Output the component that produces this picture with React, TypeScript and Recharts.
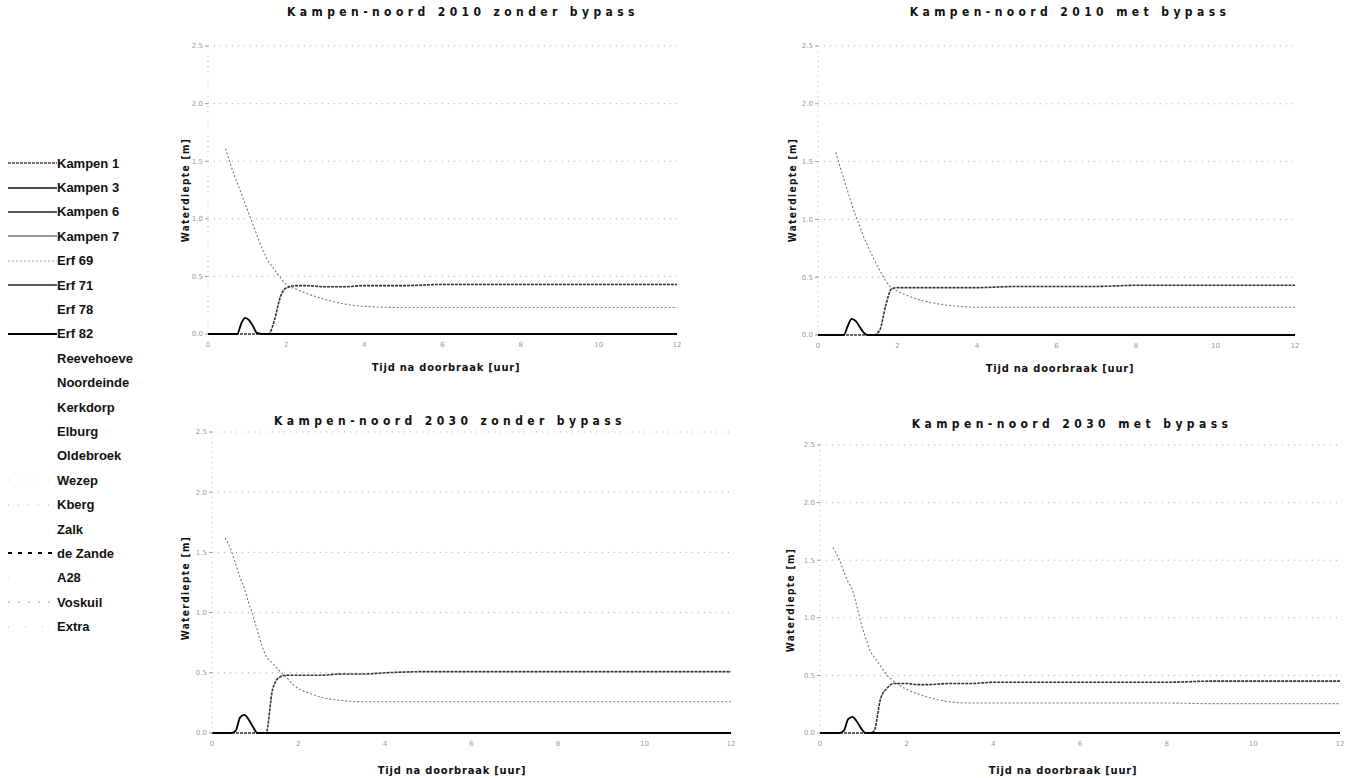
import { CartesianGrid, Line, LineChart, XAxis, YAxis } from "recharts";

// time after breach [uur], shared by all four panels
const hours = [0, 0.3, 0.45, 0.55, 0.65, 0.75, 0.85, 0.95, 1.05, 1.15, 1.25, 1.4, 1.55, 1.7, 1.85, 2, 2.25, 2.5, 3, 3.5, 4, 5, 6, 7, 8, 9, 10, 11, 12];

// water depth [m] per panel
const p1Bump = [0, 0, 0, 0, 0, 0, 0.09, 0.14, 0.12, 0.07, 0.01, 0, 0, 0, 0, 0, 0, 0, 0, 0, 0, 0, 0, 0, 0, 0, 0, 0, 0];
const p1Rise = [0, 0, 0, 0, 0, 0, 0, 0, 0, 0, 0, 0, 0, 0.12, 0.32, 0.4, 0.42, 0.42, 0.41, 0.41, 0.42, 0.42, 0.43, 0.43, 0.43, 0.43, 0.43, 0.43, 0.43];
const p1Fall = [null, null, 1.61, 1.5, 1.4, 1.31, 1.22, 1.13, 1.04, 0.95, 0.86, 0.73, 0.63, 0.56, 0.49, 0.43, 0.39, 0.355, 0.3, 0.26, 0.24, 0.23, 0.23, 0.23, 0.23, 0.23, 0.23, 0.23, 0.23];

const p2Bump = [0, 0, 0, 0, 0, 0.08, 0.14, 0.12, 0.07, 0.02, 0, 0, 0, 0, 0, 0, 0, 0, 0, 0, 0, 0, 0, 0, 0, 0, 0, 0, 0];
const p2Rise = [0, 0, 0, 0, 0, 0, 0, 0, 0, 0, 0, 0, 0.04, 0.25, 0.4, 0.41, 0.41, 0.41, 0.41, 0.41, 0.41, 0.42, 0.42, 0.42, 0.43, 0.43, 0.43, 0.43, 0.43];
const p2Fall = [null, null, 1.58, 1.46, 1.35, 1.24, 1.13, 1.03, 0.94, 0.85, 0.77, 0.66, 0.56, 0.47, 0.41, 0.38, 0.34, 0.31, 0.27, 0.25, 0.24, 0.24, 0.24, 0.24, 0.24, 0.24, 0.24, 0.24, 0.24];

const p3Bump = [0, 0, 0, 0.02, 0.13, 0.15, 0.11, 0.05, 0, 0, 0, 0, 0, 0, 0, 0, 0, 0, 0, 0, 0, 0, 0, 0, 0, 0, 0, 0, 0];
const p3Rise = [0, 0, 0, 0, 0, 0, 0, 0, 0, 0, 0, 0.36, 0.46, 0.48, 0.48, 0.48, 0.48, 0.48, 0.49, 0.49, 0.5, 0.51, 0.51, 0.51, 0.51, 0.51, 0.51, 0.51, 0.51];
const p3Fall = [null, 1.62, 1.51, 1.4, 1.29, 1.2, 1.08, 0.97, 0.85, 0.73, 0.64, 0.58, 0.52, 0.47, 0.41, 0.37, 0.33, 0.3, 0.27, 0.26, 0.26, 0.26, 0.26, 0.26, 0.26, 0.26, 0.26, 0.26, 0.26];

const p4Bump = [0, 0, 0, 0.02, 0.12, 0.14, 0.1, 0.04, 0, 0, 0, 0, 0, 0, 0, 0, 0, 0, 0, 0, 0, 0, 0, 0, 0, 0, 0, 0, 0];
const p4Rise = [0, 0, 0, 0, 0, 0, 0, 0, 0, 0, 0.02, 0.3, 0.39, 0.43, 0.43, 0.43, 0.42, 0.42, 0.43, 0.43, 0.44, 0.44, 0.44, 0.44, 0.44, 0.45, 0.45, 0.45, 0.45];
const p4Fall = [null, 1.61, 1.5, 1.4, 1.31, 1.24, 1.1, 0.95, 0.83, 0.72, 0.66, 0.58, 0.5, 0.45, 0.41, 0.38, 0.34, 0.31, 0.27, 0.26, 0.26, 0.26, 0.26, 0.26, 0.26, 0.255, 0.255, 0.255, 0.255];

const xTicks = [0, 2, 4, 6, 8, 10, 12];
const yTicks = [0, 0.5, 1, 1.5, 2, 2.5];

const titles = [
  "Kampen-noord 2010 zonder bypass",
  "Kampen-noord 2010 met bypass",
  "Kampen-noord 2030 zonder bypass",
  "Kampen-noord 2030 met bypass",
];

const legendNames = [
  "Kampen 1", "Kampen 3", "Kampen 6", "Kampen 7", "Erf 69", "Erf 71", "Erf 78", "Erf 82",
  "Reevehoeve", "Noordeinde", "Kerkdorp", "Elburg", "Oldebroek", "Wezep", "Kberg", "Zalk",
  "de Zande", "A28", "Voskuil", "Extra",
];

// stroke for each legend entry: [color, width, dash] (null = no visible line)
const legendStyles: ([string, number, string] | null)[] = [
  ["#444", 1.5, "3 1"], ["#111", 1.5, ""], ["#222", 1.5, ""], ["#333", 1, ""],
  ["#aaa", 1, "2 2"], ["#222", 1.5, ""], null, ["#000", 2, ""],
  null, null, null, null, null,
  ["#bbb", 1, "1 9"], ["#aaa", 1, "1 9"], null,
  ["#000", 2, "4 6"], ["#ccc", 1, "1 60"], ["#999", 1, "2 8"], ["#bbb", 1, "1 16"],
];

const panelSeries = [
  [p1Bump, p1Rise, p1Fall],
  [p2Bump, p2Rise, p2Fall],
  [p3Bump, p3Rise, p3Fall],
  [p4Bump, p4Rise, p4Fall],
];

const boldNarrow = "'Liberation Sans Narrow', 'DejaVu Sans Condensed', 'Liberation Sans', sans-serif";

interface PanelBox {
  left: number;
  top: number;
  width: number;
  height: number;
  margin: { top: number; right: number; bottom: number; left: number };
  titleX: number;
  titleY: number;
  xLabelX: number;
  xLabelY: number;
  yLabelX: number;
  yLabelY: number;
}

const boxes: PanelBox[] = [
  { left: 160, top: 0, width: 540, height: 370, margin: { top: 46, right: 23, bottom: 16, left: 18 },
    titleX: 463, titleY: 12, xLabelX: 446, xLabelY: 367, yLabelX: 185, yLabelY: 190 },
  { left: 770, top: 0, width: 550, height: 371, margin: { top: 46, right: 25, bottom: 16, left: 18 },
    titleX: 1070, titleY: 12, xLabelX: 1060, xLabelY: 368, yLabelX: 792, yLabelY: 190 },
  { left: 164, top: 390, width: 580, height: 375, margin: { top: 42, right: 13, bottom: 12, left: 18 },
    titleX: 450, titleY: 421, xLabelX: 452, xLabelY: 770, yLabelX: 185, yLabelY: 588 },
  { left: 772, top: 400, width: 575, height: 365, margin: { top: 45, right: 7, bottom: 12, left: 18 },
    titleX: 1072, titleY: 424, xLabelX: 1063, xLabelY: 770, yLabelX: 790, yLabelY: 600 },
];

function Panel({ index }: { index: number }) {
  const box = boxes[index];
  const [bump, rise, fall] = panelSeries[index];
  const data = hours.map((t, i) => ({ t, bump: bump[i], rise: rise[i], fall: fall[i] }));
  const tick = { fill: "#9a9a9a", fontSize: 7, fontFamily: "'DejaVu Sans', sans-serif" };

  return (
    <>
      <div style={{ position: "absolute", left: box.left, top: box.top }}>
        <LineChart width={box.width} height={box.height} data={data} margin={box.margin}>
          <CartesianGrid horizontal vertical={false} stroke="#aaa" strokeDasharray="1 5" />
          <XAxis
            type="number"
            dataKey="t"
            domain={[0, 12]}
            ticks={xTicks}
            height={20}
            axisLine={false}
            tickLine={false}
            tick={tick}
          />
          <YAxis
            domain={[0, 2.5]}
            ticks={yTicks}
            width={30}
            axisLine={{ stroke: "#bbb", strokeDasharray: "1 4" }}
            tickLine={{ stroke: "#999" }}
            tickSize={3}
            tick={tick}
            tickFormatter={(v: number) => v.toFixed(1)}
          />
          <Line dataKey="fall" type="monotone" stroke="#777" strokeWidth={1.1} strokeDasharray="2 2" dot={false} isAnimationActive={false} />
          <Line dataKey="rise" type="monotone" stroke="#333" strokeWidth={1.6} strokeDasharray="3 1" dot={false} isAnimationActive={false} />
          <Line dataKey="bump" type="monotone" stroke="#000" strokeWidth={1.8} dot={false} isAnimationActive={false} />
        </LineChart>
      </div>
      <div
        style={{
          position: "absolute", left: box.titleX, top: box.titleY, transform: "translate(-50%, -50%)",
          fontFamily: boldNarrow, fontWeight: "bold", fontSize: 12, letterSpacing: 4.4, whiteSpace: "nowrap", color: "#111",
        }}
      >
        {titles[index]}
      </div>
      <div
        style={{
          position: "absolute", left: box.xLabelX, top: box.xLabelY, transform: "translate(-50%, -50%)",
          fontFamily: boldNarrow, fontWeight: "bold", fontSize: 11, letterSpacing: 0.8, whiteSpace: "nowrap", color: "#111",
        }}
      >
        Tijd na doorbraak [uur]
      </div>
      <div
        style={{
          position: "absolute", left: box.yLabelX, top: box.yLabelY, transform: "translate(-50%, -50%) rotate(-90deg)",
          fontFamily: boldNarrow, fontWeight: "bold", fontSize: 10, letterSpacing: 1.4, whiteSpace: "nowrap", color: "#111",
        }}
      >
        Waterdiepte [m]
      </div>
    </>
  );
}

function SideLegend() {
  return (
    <div style={{ position: "absolute", left: 8, top: 151 }}>
      {legendNames.map((name, i) => {
        const s = legendStyles[i];
        return (
          <div key={name} style={{ display: "flex", alignItems: "center", height: 24.4 }}>
            <svg width={49} height={10}>
              {s && <line x1={0} y1={5} x2={49} y2={5} stroke={s[0]} strokeWidth={s[1]} strokeDasharray={s[2] || undefined} />}
            </svg>
            <span style={{ fontFamily: "'Liberation Sans', Arial, sans-serif", fontWeight: "bold", fontSize: 13, color: "#111" }}>
              {name}
            </span>
          </div>
        );
      })}
    </div>
  );
}

export default function App() {
  return (
    <div style={{ position: "absolute", left: 0, top: 0, width: 1349, height: 778, background: "#fff", overflow: "hidden" }}>
      <SideLegend />
      {boxes.map((_, i) => (
        <Panel key={i} index={i} />
      ))}
    </div>
  );
}
